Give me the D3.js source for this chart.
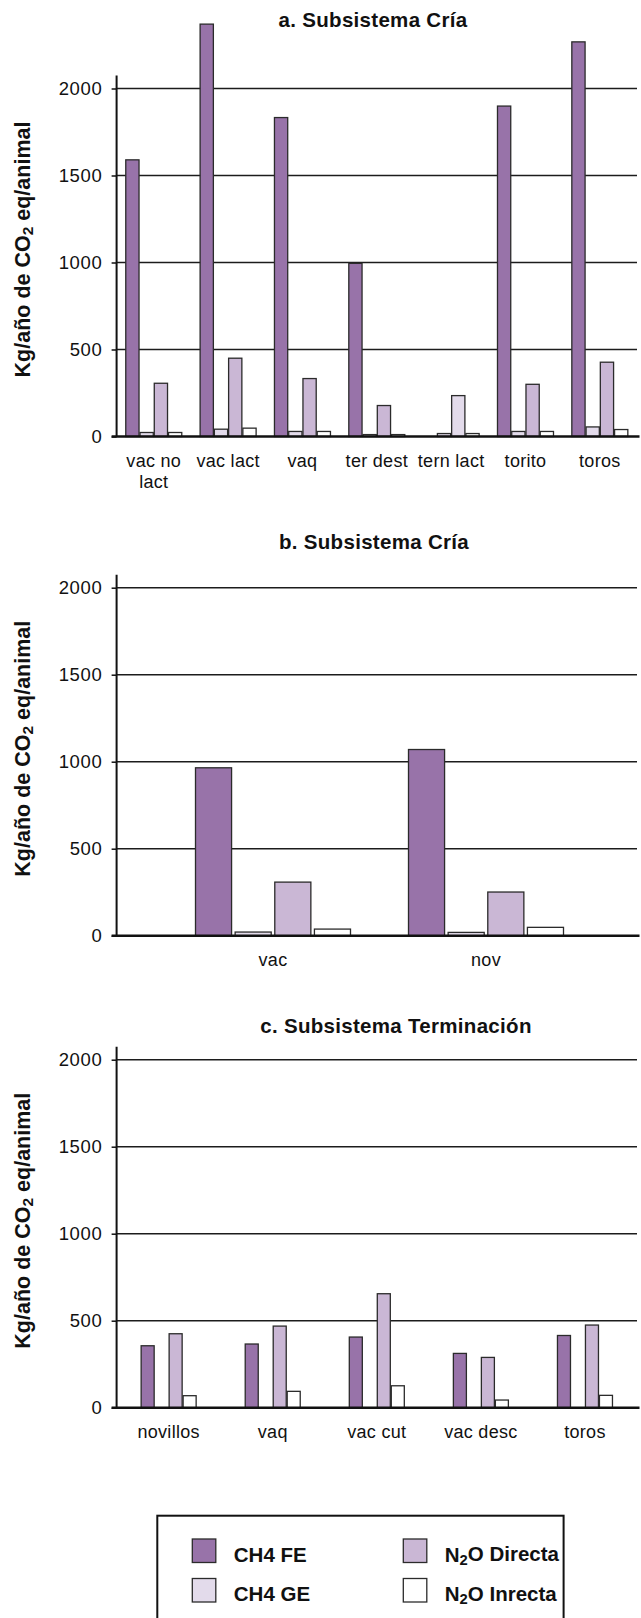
<!DOCTYPE html>
<html lang="es">
<head>
<meta charset="UTF-8">
<title>Emisiones por categoría animal</title>
<script src="https://cdnjs.cloudflare.com/ajax/libs/d3/7.8.5/d3.min.js"></script>
<style>
    body { margin: 0; background: #fff; }
    svg { display: block; font-family: "Liberation Sans", Arial, sans-serif; }
    .title { font-weight: bold; font-size: 20.5px; letter-spacing: 0.3px; fill: #111; }
    .yaxis text { font-size: 18.5px; letter-spacing: 0.7px; fill: #111; }
    .xaxis text { font-size: 18px; letter-spacing: 0.3px; fill: #111; }
    .ylabel { font-weight: bold; font-size: 21.5px; fill: #111; }
    .grid { stroke: #1c1c1c; stroke-width: 1.5; }
    .bar { stroke: #2b2b2b; stroke-width: 1.3; }
    .legend text { font-weight: bold; font-size: 20.5px; fill: #111; }
</style>
</head>
<body>
<svg id="chart"></svg>
<script>
// series
const seriesNames = ["CH4 FE", "CH4 GE", "N2O Directa", "N2O Inrecta"];
const yTicks = [0, 500, 1000, 1500, 2000];

// a. Subsistema Cría
const catsA = ["vac no lact", "vac lact", "vaq", "ter dest", "tern lact", "torito", "toros"];
const ch4FeA = [1590, 2370, 1833, 995, 0, 1899, 2268];
const ch4GeA = [23, 42, 29, 11, 17, 29, 55];
const n2oDirA = [306, 450, 333, 178, 235, 300, 427];
const n2oIndA = [23, 48, 29, 11, 17, 29, 40];

// b. Subsistema Cría
const catsB = ["vac", "nov"];
const ch4FeB = [965, 1070];
const ch4GeB = [21, 19];
const n2oDirB = [308, 251];
const n2oIndB = [38, 48];

// c. Subsistema Terminación
const catsC = ["novillos", "vaq", "vac cut", "vac desc", "toros"];
const ch4FeC = [356, 366, 406, 312, 415];
const ch4GeC = [0, 0, 0, 0, 0];
const n2oDirC = [425, 469, 655, 289, 475];
const n2oIndC = [69, 94, 126, 44, 71];

const COLORS = {
    "CH4 FE": "#9873a9",
    "CH4 GE": "#e3dbeb",
    "N2O Directa": "#cab7d5",
    "N2O Inrecta": "#ffffff"
};

// layout
const W = 641, H = 1618;
const axisX = 116.6, plotRight = 637;
const plotH = 348;

const panels = [
    { title: "a. Subsistema Cría", cats: catsA, values: [ch4FeA, ch4GeA, n2oDirA, n2oIndA],
      y0: 436.5, titleX: 373, titleY: 27, xRange: [axisX, plotRight], groupW: 56, barPad: 0.07 },
    { title: "b. Subsistema Cría", cats: catsB, values: [ch4FeB, ch4GeB, n2oDirB, n2oIndB],
      y0: 935.7, titleX: 374, titleY: 548.7, xRange: [166.5, 592.5], groupW: 155, barPad: 0.09 },
    { title: "c. Subsistema Terminación", cats: catsC, values: [ch4FeC, ch4GeC, n2oDirC, n2oIndC],
      y0: 1407.7, titleX: 396, titleY: 1033.3, xRange: [axisX, plotRight], groupW: 55, barPad: 0.07 }
];

const svg = d3.select("#chart").attr("width", W).attr("height", H);
svg.append("rect").attr("width", W).attr("height", H).attr("fill", "#fff");

// writes "N2O"/"CO2" style text with a subscript 2
function chemText(sel, str) {
    const m = str.match(/^(.*?(?:N|CO))2(.*)$/);
    if (!m) { sel.text(str); return; }
    sel.append("tspan").text(m[1]);
    sel.append("tspan").attr("font-size", "0.72em").attr("dy", "0.22em").text("2");
    sel.append("tspan").attr("dy", "-0.16em").text(m[2]);
}

function wrap(textSel, width) {
    textSel.each(function() {
        const text = d3.select(this);
        const words = text.text().split(/\s+/);
        const y = text.attr("y"), dy = parseFloat(text.attr("dy"));
        let line = [];
        let tspan = text.text(null).append("tspan").attr("x", 0).attr("y", y).attr("dy", dy + "em");
        let lineNo = 0;
        words.forEach(w => {
            line.push(w);
            tspan.text(line.join(" "));
            if (tspan.node().getComputedTextLength() > width && line.length > 1) {
                line.pop();
                tspan.text(line.join(" "));
                line = [w];
                lineNo++;
                tspan = text.append("tspan").attr("x", 0).attr("y", y)
                    .attr("dy", (lineNo * 1.17 + dy) + "em").text(w);
            }
        });
    });
}

panels.forEach(p => {
    const g = svg.append("g");
    const y = d3.scaleLinear().domain([0, 2000]).range([p.y0, p.y0 - plotH]);
    const x0 = d3.scaleBand().domain(p.cats).range(p.xRange);
    const x1 = d3.scaleBand().domain(seriesNames).range([0, p.groupW]).paddingInner(p.barPad);
    const off = (x0.bandwidth() - p.groupW) / 2;

    // gridlines
    g.selectAll(".grid").data(yTicks.filter(t => t > 0)).enter().append("line")
        .attr("class", "grid")
        .attr("x1", axisX).attr("x2", plotRight)
        .attr("y1", d => y(d)).attr("y2", d => y(d));

    // y axis ticks and labels
    const yAxis = g.append("g").attr("class", "yaxis")
        .attr("transform", `translate(${axisX},0)`)
        .call(d3.axisLeft(y).tickValues(yTicks).tickSize(5).tickPadding(9).tickFormat(d3.format("d")));
    yAxis.select(".domain").remove();
    yAxis.selectAll(".tick line").attr("stroke", "#111").attr("stroke-width", 1.5);

    // bars
    seriesNames.forEach((s, si) => {
        g.selectAll(null)
            .data(p.cats.map((c, i) => ({ cat: c, val: p.values[si][i] })).filter(d => d.val > 0))
            .enter().append("rect")
            .attr("class", "bar")
            .attr("x", d => x0(d.cat) + off + x1(s))
            .attr("width", x1.bandwidth())
            .attr("y", d => y(d.val))
            .attr("height", d => y(0) - y(d.val))
            // the tern lact bar is printed in the paler tone in the source figure
            .attr("fill", d => (s === "N2O Directa" && d.cat === "tern lact") ? COLORS["CH4 GE"] : COLORS[s]);
    });

    // axis lines
    g.append("line").attr("x1", axisX).attr("x2", axisX)
        .attr("y1", y(2075)).attr("y2", y(0))
        .attr("stroke", "#111").attr("stroke-width", 2);
    g.append("line").attr("x1", axisX - 5).attr("x2", 639.5)
        .attr("y1", y(0)).attr("y2", y(0))
        .attr("stroke", "#111").attr("stroke-width", 2.5);

    // category labels
    const xAxis = g.append("g").attr("class", "xaxis")
        .attr("transform", `translate(0,${p.y0})`)
        .call(d3.axisBottom(x0).tickSize(0).tickPadding(17.7));
    xAxis.select(".domain").remove();
    xAxis.selectAll(".tick text").call(wrap, x0.bandwidth() - 4);

    // title
    g.append("text").attr("class", "title")
        .attr("x", p.titleX).attr("y", p.titleY)
        .attr("text-anchor", "middle").text(p.title);

    // y label
    const yl = g.append("text").attr("class", "ylabel")
        .attr("text-anchor", "middle")
        .attr("transform", `translate(30,${p.y0 - 187}) rotate(-90)`);
    chemText(yl, "Kg/año de CO2 eq/animal");
});

// legend
const legend = svg.append("g").attr("class", "legend");
legend.append("rect")
    .attr("x", 157.3).attr("y", 1515.7).attr("width", 406.3).attr("height", 130)
    .attr("fill", "none").attr("stroke", "#111").attr("stroke-width", 2);

const legX = d3.scaleOrdinal().domain(seriesNames).range([192.3, 192.3, 403.3, 403.3]);
const legY = d3.scaleOrdinal().domain(seriesNames).range([1539, 1578.5, 1539, 1578.5]);

seriesNames.forEach(s => {
    legend.append("rect")
        .attr("x", legX(s)).attr("y", legY(s))
        .attr("width", 23.5).attr("height", 23.5)
        .attr("fill", COLORS[s]).attr("stroke", "#2b2b2b").attr("stroke-width", 1.3);
    const t = legend.append("text")
        .attr("x", legX(s) + 41.5).attr("y", legY(s) + 22.5);
    chemText(t, s);
});
</script>
</body>
</html>
